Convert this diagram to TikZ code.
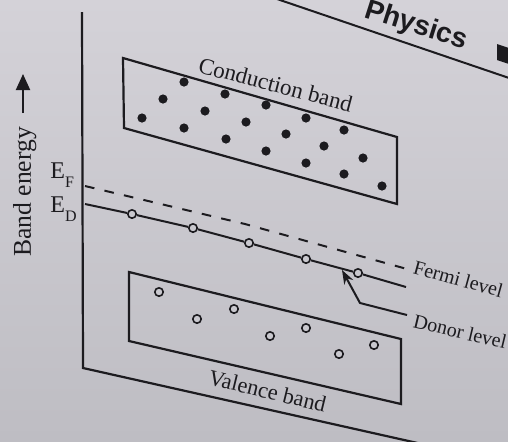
\documentclass[tikz,border=0pt]{standalone}
\usepackage{fontspec}
\setmainfont{Liberation Serif}
\newfontfamily\hdrfont{Liberation Sans}
\usetikzlibrary{arrows.meta}
\definecolor{paperhi}{RGB}{212,210,216}
\definecolor{paperlo}{RGB}{190,189,195}
\definecolor{paper}{RGB}{201,200,206}
\definecolor{ink}{RGB}{28,27,31}
\begin{document}
\begin{tikzpicture}[x=0.5pt,y=-0.5pt,
  ln/.style={draw=ink,line width=1.1pt},
  edot/.style={circle,fill=ink,inner sep=0pt,minimum size=4.6pt},
  hole/.style={circle,draw=ink,fill=paper,line width=0.8pt,inner sep=0pt,minimum size=4.2pt},
  lbl/.style={inner sep=0pt,anchor=base west,text=ink},
]
\fill[top color=paperhi,bottom color=paperlo] (0,0) rectangle (508,441);
\useasboundingbox (0,0) rectangle (508,441);
\clip (0,0) rectangle (508,441);

% header of the page
\coordinate (hl1) at (277,-1);
\coordinate (hl2) at (512,79);
\draw[ln,line width=1pt] (hl1) -- (hl2);
\node[lbl,font=\hdrfont\bfseries\fontsize{14}{16}\selectfont,rotate=-17.6] (hdr) at (363,17) {Physics};
\fill[ink] (497,44) -- (512,49) -- (512,65) -- (497,60) -- cycle;

% axes
\coordinate (axtop) at (82,12);
\coordinate (axcorner) at (83,368);
\coordinate (baseend) at (422,444);
\draw[ln] (axtop) -- (axcorner) -- (baseend);

% band energy label
\node[lbl,rotate=90,font=\fontsize{12.8}{14}\selectfont] (be) at (31,257) {Band energy};
\coordinate (arrb) at (23,113);
\coordinate (arrt) at (23,74);
\draw[ln,line width=1pt,-{Triangle[length=8pt,width=7pt]}] (arrb) -- (arrt);

% conduction band
\coordinate (cTL) at (123,58);
\coordinate (cTR) at (397,137);
\coordinate (cBR) at (397,204);
\coordinate (cBL) at (124,128);
\draw[ln] (cTL) -- (cTR) -- (cBR) -- (cBL) -- cycle;
\foreach \x/\y [count=\i] in {142/118,163/99,184/82,184/128,205/111,225/94,226/139,246/122,266/105,266/151,286/134,306/118,306/163,324/146,344/130,344/174,363/158,382/186}
  \node[edot] (c\i) at (\x,\y) {};
\node[lbl,font=\fontsize{11.5}{13}\selectfont,rotate=-14.7] (cb) at (197,72) {Conduction band};

% valence band
\coordinate (vTL) at (129,272);
\coordinate (vTR) at (401,339);
\coordinate (vBR) at (401,404);
\coordinate (vBL) at (129,341);
\draw[ln] (vTL) -- (vTR) -- (vBR) -- (vBL) -- cycle;
\foreach \x/\y [count=\i] in {159/292,197/319,234/309,270/336,306/328,339/354,374/345}
  \node[hole] (v\i) at (\x,\y) {};
\node[lbl,font=\fontsize{11.2}{13}\selectfont,rotate=-13.6] (vb) at (207,384) {Valence band};

% Fermi level (dashed)
\coordinate (fstart) at (85,186);
\coordinate (fmid) at (245,224);
\coordinate (fend) at (407,269);
\draw[ln,line width=1pt,dash pattern=on 4.8pt off 5.2pt] (fstart) -- (fmid) -- (fend);
\node[lbl,font=\fontsize{10}{12}\selectfont,rotate=-15.5] (fl) at (412,273) {Fermi level};

% Donor level
\coordinate (dstart) at (85,204);
\foreach \x/\y [count=\i] in {132/214,193/228,249/243,306/259,358/273}
  \node[hole] (d\i) at (\x,\y) {};
\coordinate (dend) at (406,287);
\draw[ln,line width=1pt] (dstart) -- (d1) -- (d2) -- (d3) -- (d4) -- (d5) -- (dend);
\node[lbl,font=\fontsize{10}{12}\selectfont,rotate=-13.5] (dlv) at (412,327) {Donor level};
\coordinate (dl) at (407,315);
\coordinate (dbend) at (360,303);
\coordinate (dtip) at (342,270);
\draw[ln,line width=1pt,-{Stealth[length=7pt,width=5pt]}] (dl) -- (dbend) -- (dtip);

% E labels
\node[lbl,font=\fontsize{12}{14}\selectfont] (ef) at (50,178) {E\lower4.5pt\hbox{\fontsize{8}{8}\selectfont F}};
\node[lbl,font=\fontsize{12}{14}\selectfont] (ed) at (50,212) {E\lower4.5pt\hbox{\fontsize{8}{8}\selectfont D}};
\end{tikzpicture}
\end{document}
